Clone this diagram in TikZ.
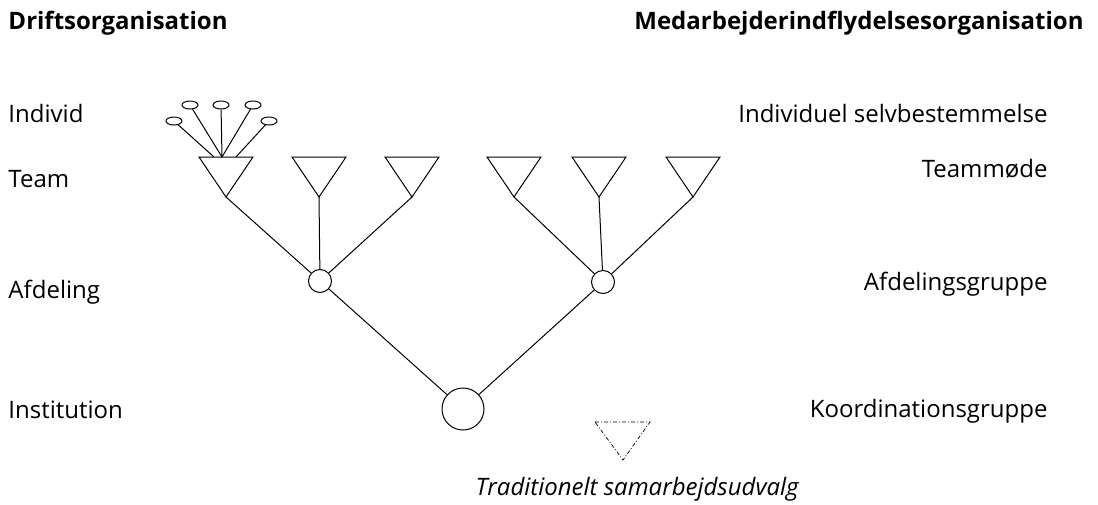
\documentclass[tikz,border=0pt]{standalone}
\usepackage{fontspec}
\setmainfont{Open Sans}
\usetikzlibrary{shapes.geometric}

\begin{document}
\begin{tikzpicture}[x=1pt, y=-1pt, line width=1pt,
    font=\fontsize{24}{28}\selectfont,
    lbl/.style={inner sep=0pt},
    unit/.style={draw, circle, inner sep=0pt, minimum size=#1},
    person/.style={draw, ellipse, inner sep=0pt, minimum width=16pt, minimum height=8pt}]
  \useasboundingbox (0,0) rectangle (1098,504);

  % headings
  \node[lbl, anchor=base west, font=\fontsize{24}{28}\selectfont\bfseries] (hl) at (8,29) {Driftsorganisation};
  \node[lbl, anchor=base east, font=\fontsize{24}{28}\selectfont\bfseries] (hr) at (1084,29) {Medarbejderindflydelsesorganisation};

  % levels, left
  \node[lbl, anchor=base west] (l1) at (8,122) {Individ};
  \node[lbl, anchor=base west] (l2) at (8,187) {Team};
  \node[lbl, anchor=base west] (l3) at (8,298) {Afdeling};
  \node[lbl, anchor=base west] (l4) at (8,418) {Institution};

  % levels, right
  \node[lbl, anchor=base east] (r1) at (1048,122) {Individuel selvbestemmelse};
  \node[lbl, anchor=base east] (r2) at (1048,177) {Teammøde};
  \node[lbl, anchor=base east] (r3) at (1048,290) {Afdelingsgruppe};
  \node[lbl, anchor=base east] (r4) at (1048,417) {Koordinationsgruppe};

  % teams
  \foreach \n/\x in {1/226, 2/319, 3/412, 4/514, 5/599, 6/693}
    \draw (\x-27,157) -- (\x+27,157) -- (\x,197) coordinate (t\n) -- cycle;

  % individuals
  \node[person] (e1) at (174,121) {};
  \node[person] (e2) at (190,105) {};
  \node[person] (e3) at (221,105) {};
  \node[person] (e4) at (253,105) {};
  \node[person] (e5) at (269,121) {};
  \coordinate (ea) at (214,157);
  \coordinate (eb) at (222,157);
  \coordinate (ec) at (236,157);
  \draw (e1) -- (ea);
  \draw (e2) -- (eb);
  \draw (e3) -- (eb);
  \draw (e4) -- (eb);
  \draw (e5) -- (ec);

  % departments and institution
  \node[unit=23pt] (c1) at (320,281) {};
  \node[unit=23pt] (c2) at (603,282) {};
  \node[unit=42pt] (c0) at (463,409) {};

  \draw (t1) -- (c1);
  \draw (t2) -- (c1);
  \draw (t3) -- (c1);
  \draw (t4) -- (c2);
  \draw (t5) -- (c2);
  \draw (t6) -- (c2);
  \draw (c1) -- (c0);
  \draw (c2) -- (c0);

  % traditional committee
  \draw[line width=0.7pt, dash pattern=on 4pt off 2pt on 1pt off 2pt] (595,422) -- (650,422) -- (623,460) -- cycle;
  \node[lbl, anchor=base west, font=\fontsize{24}{28}\selectfont\itshape] (tx) at (475,495) {Traditionelt samarbejdsudvalg};
\end{tikzpicture}
\end{document}
